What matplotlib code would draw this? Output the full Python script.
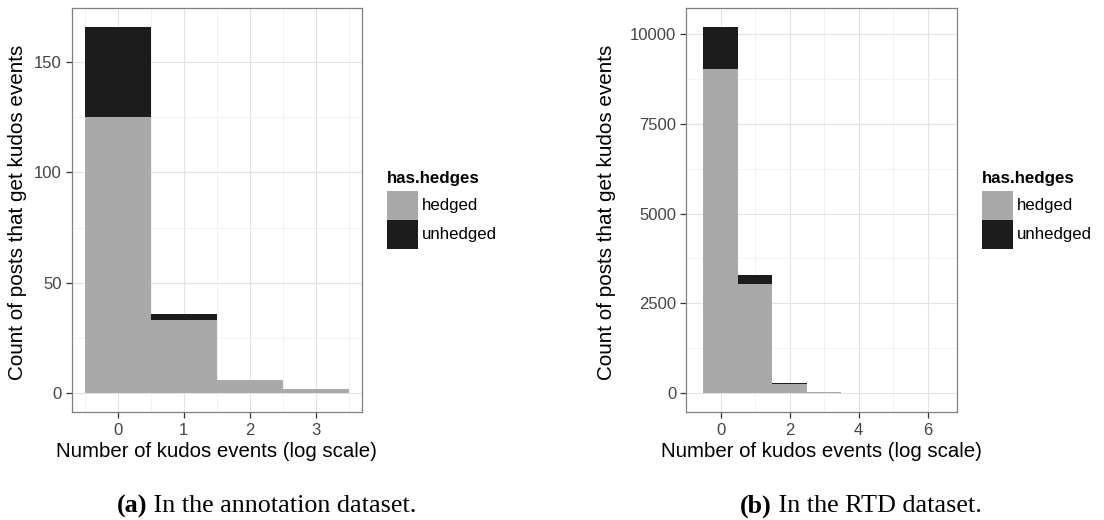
import matplotlib
matplotlib.use("Agg")
import matplotlib.pyplot as plt
from matplotlib.patches import Rectangle
import numpy as np

# Annotation dataset: counts per log-scaled kudos bin
annot_bins = [0, 1, 2, 3]
annot_hedged = [125, 33, 6, 2]
annot_unhedged = [41, 3, 0, 0]

# RTD dataset
rtd_bins = [0, 1, 2, 3, 4, 5, 6]
rtd_hedged = [9030, 3030, 265, 40, 8, 3, 5]
rtd_unhedged = [1165, 255, 20, 5, 1, 0, 1]

annot_yticks = [0, 50, 100, 150]
annot_xticks = [0, 1, 2, 3]
rtd_yticks = [0, 2500, 5000, 7500, 10000]
rtd_xticks = [0, 2, 4, 6]

legend_title = "has.hedges"
legend_labels = ["hedged", "unhedged"]
x_label = "Number of kudos events (log scale)"
y_label = "Count of posts that get kudos events"
captions = [("(a)", " In the annotation dataset."), ("(b)", " In the RTD dataset.")]

HEDGED = "#a9a9a9"
UNHEDGED = "#1c1c1c"
SANS = "Liberation Sans"
SERIF = "Liberation Serif"

W, H = 1104, 520
fig = plt.figure(figsize=(W / 100, H / 100), dpi=100)
fig.patch.set_facecolor("white")


def px_axes(x0, x1, y0, y1):
    return fig.add_axes([x0 / W, 1 - y1 / H, (x1 - x0) / W, (y1 - y0) / H])


def draw_panel(ax, bins, hedged, unhedged, xticks, yticks):
    bins = np.asarray(bins, dtype=float)
    hedged = np.asarray(hedged, dtype=float)
    unhedged = np.asarray(unhedged, dtype=float)
    ax.bar(bins, hedged, width=1.0, color=HEDGED, linewidth=0, zorder=2)
    ax.bar(bins, unhedged, width=1.0, bottom=hedged, color=UNHEDGED,
           linewidth=0, zorder=2)

    lo, hi = bins.min() - 0.5, bins.max() + 0.5
    pad = (hi - lo) * 0.05
    ax.set_xlim(lo - pad, hi + pad)
    top = (hedged + unhedged).max()
    ax.set_ylim(-top * 0.05, top * 1.05)

    ax.set_xticks(xticks)
    ax.set_yticks(yticks)
    ax.set_yticklabels([str(v) for v in yticks])
    step_x = xticks[1] - xticks[0]
    step_y = yticks[1] - yticks[0]
    ax.set_xticks(np.arange(xticks[0] - step_x / 2, hi + pad, step_x), minor=True)
    ax.set_yticks(np.arange(yticks[0] + step_y / 2, top * 1.05, step_y), minor=True)

    ax.grid(which="major", color="#e3e3e3", linewidth=0.8, zorder=0)
    ax.grid(which="minor", color="#f0f0f0", linewidth=0.6, zorder=0)
    ax.set_axisbelow(True)
    ax.set_facecolor("white")
    for s in ax.spines.values():
        s.set_color("#808080")
        s.set_linewidth(0.9)
    ax.tick_params(which="major", length=4, width=0.9, color="#333333",
                   labelsize=12, labelcolor="#444444", pad=3)
    ax.tick_params(axis="x", which="major", pad=4)
    ax.tick_params(which="minor", length=0)
    for lab in ax.get_xticklabels() + ax.get_yticklabels():
        lab.set_fontfamily(SANS)
    ax.set_xlabel(x_label, fontsize=14.7, family=SANS, color="black", labelpad=3)


def draw_legend(x_key, x_title):
    fig.text(x_title / W, 1 - 178 / H, legend_title, fontsize=12.2, weight="bold",
             family=SANS, ha="left", va="center")
    rows = [(190.7, 220.0), (220.0, 249.3)]
    for (y0, y1), color, label in zip(rows, [HEDGED, UNHEDGED], legend_labels):
        fig.patches.append(Rectangle((x_key / W, 1 - y1 / H), 31 / W, (y1 - y0) / H,
                                     transform=fig.transFigure, facecolor=color,
                                     edgecolor="none"))
        fig.text((x_key + 35) / W, 1 - (y0 + y1) / 2 / H, label, fontsize=12.1,
                 family=SANS, ha="left", va="center")


ax1 = px_axes(71.7, 362.0, 8.3, 411.7)
draw_panel(ax1, annot_bins, annot_hedged, annot_unhedged, annot_xticks, annot_yticks)
ax2 = px_axes(686.0, 957.0, 8.3, 411.7)
draw_panel(ax2, rtd_bins, rtd_hedged, rtd_unhedged, rtd_xticks, rtd_yticks)

fig.text(18 / W, 1 - 212 / H, y_label, rotation=90, fontsize=14.9, family=SANS,
         ha="center", va="center")
fig.text(606 / W, 1 - 212 / H, y_label, rotation=90, fontsize=14.9, family=SANS,
         ha="center", va="center")

draw_legend(386.7, 387)
draw_legend(982.3, 982)

# Sub-figure captions in a serif face, with a bold tag in front
renderer = fig.canvas.get_renderer()
cap_size = 18.8
for cx, (tag, rest) in zip([266.5, 861.0], captions):
    probe_tag = fig.text(0, 0, tag, fontsize=cap_size, family=SERIF, weight="bold")
    probe_rest = fig.text(0, 0, rest, fontsize=cap_size, family=SERIF)
    w_tag = probe_tag.get_window_extent(renderer).width
    w_rest = probe_rest.get_window_extent(renderer).width
    probe_tag.remove()
    probe_rest.remove()
    x0 = cx - (w_tag + w_rest) / 2
    fig.text(x0 / W, 1 - 506 / H, tag, fontsize=cap_size, family=SERIF,
             weight="bold", ha="left", va="center")
    fig.text((x0 + w_tag) / W, 1 - 506 / H, rest, fontsize=cap_size, family=SERIF,
             ha="left", va="center")

fig.savefig("out.png", dpi=100)
